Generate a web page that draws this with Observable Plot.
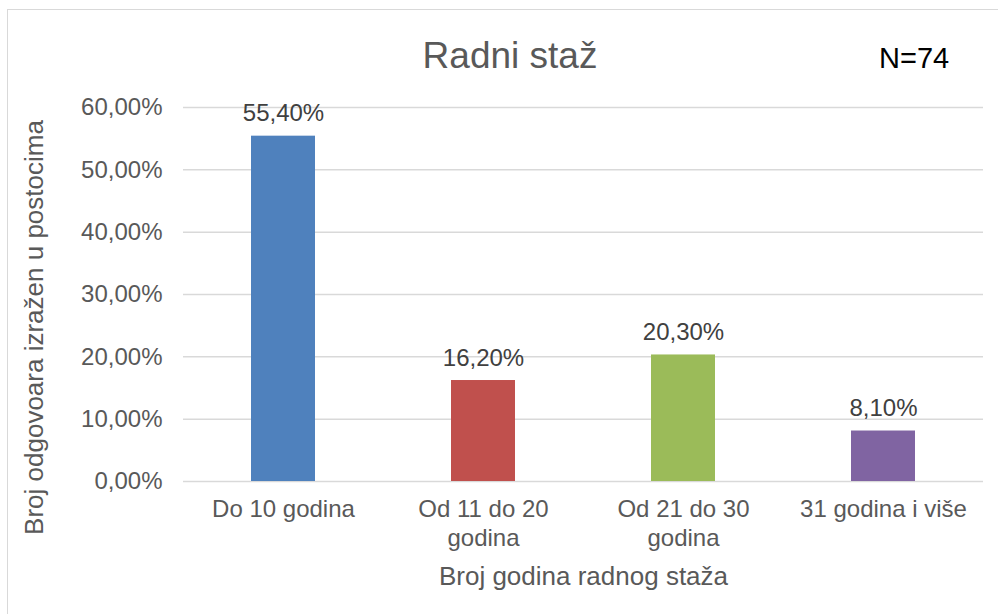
<!DOCTYPE html>
<html>
<head>
<meta charset="utf-8">
<script src="https://cdn.jsdelivr.net/npm/d3@7"></script>
<script src="https://cdn.jsdelivr.net/npm/@observablehq/plot@0.6"></script>
<style>
  html, body { margin: 0; padding: 0; background: #fff; }
  #wrap { position: relative; width: 998px; height: 614px; overflow: hidden; font-family: "Liberation Sans", Arial, sans-serif; }
  #border { position: absolute; left: 7px; top: 9px; width: 1100px; height: 700px; border: 1.5px solid #d9d9d9; box-sizing: border-box; }
  #title { position: absolute; left: 0; width: 1020px; top: 33px; text-align: center; font-size: 37px; color: #595959; line-height: 46px; }
  #n { position: absolute; left: 879px; top: 42px; font-size: 29px; color: #000; line-height: 32px; }
  #chart { position: absolute; left: 0; top: 0; }
</style>
</head>
<body>
<div id="wrap">
  <div id="border"></div>
  <div id="chart"></div>
  <div id="title">Radni staž</div>
  <div id="n">N=74</div>
</div>
<script>
const categories = ["Do 10 godina", "Od 11 do 20 godina", "Od 21 do 30 godina", "31 godina i više"];
const tickLabels = ["Do 10 godina", "Od 11 do 20\ngodina", "Od 21 do 30\ngodina", "31 godina i više"];
const values = [55.4, 16.2, 20.3, 8.1];
const colors = ["#4F81BD", "#C0504D", "#9BBB59", "#8064A2"];
const yTicks = [0, 10, 20, 30, 40, 50, 60];
const xTitle = "Broj godina radnog staža";
const yTitle = "Broj odgovoara izražen u postocima";

const data = categories.map((c, i) => ({category: c, value: values[i]}));
const pct = v => d3.format(".2f")(v).replace(".", ",") + "%";
const tickMap = new Map(categories.map((c, i) => [c, tickLabels[i]]));

const chart = Plot.plot({
  width: 998,
  height: 614,
  marginTop: 107,
  marginBottom: 133,
  marginLeft: 183,
  marginRight: 15,
  style: {fontFamily: "'Liberation Sans', Arial, sans-serif", background: "transparent"},
  x: {domain: categories, paddingInner: 0.68, paddingOuter: 0.34, label: null},
  y: {domain: [0, 60], label: null},
  color: {domain: categories, range: colors},
  marks: [
    Plot.ruleY(yTicks, {stroke: "#d9d9d9", strokeWidth: 1.5}),
    Plot.barY(data, {x: "category", y: "value", fill: "category"}),
    Plot.text(data, {x: "category", y: "value", text: d => pct(d.value), lineAnchor: "bottom", dy: -15, fontSize: 24, fill: "#404040"}),
    Plot.axisY(yTicks, {tickSize: 0, tickPadding: 21, tickFormat: pct, fontSize: 24, color: "#595959", label: null}),
    Plot.axisX({tickSize: 0, tickPadding: 16, tickFormat: d => tickMap.get(d), fontSize: 24, lineHeight: 1.17, color: "#595959", label: null}),
    Plot.text([xTitle], {frameAnchor: "bottom", lineAnchor: "middle", dy: 95, fontSize: 26, fill: "#595959"}),
    Plot.text([yTitle], {frameAnchor: "left", textAnchor: "middle", lineAnchor: "middle", rotate: -90, dx: -149, dy: 33, fontSize: 26, fill: "#595959"})
  ]
});
document.getElementById("chart").appendChild(chart);
</script>
</body>
</html>
